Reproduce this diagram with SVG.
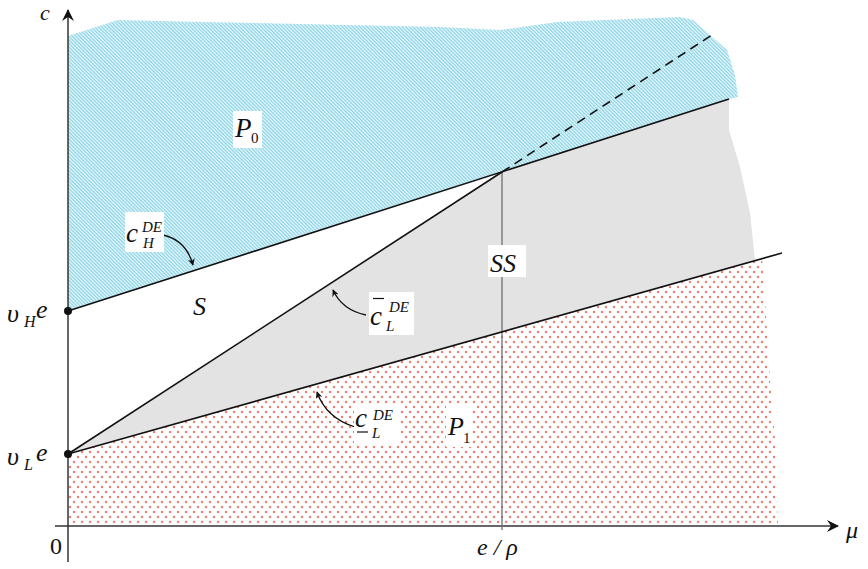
<svg xmlns="http://www.w3.org/2000/svg" width="868" height="569" viewBox="0 0 868 569">
<defs>
<style>
.t{font-family:"Liberation Serif","Times New Roman",serif;font-style:italic;fill:#111}
.n{font-family:"Liberation Serif","Times New Roman",serif;fill:#111}
.ax{stroke:#333;stroke-width:1.5;fill:none}
.ln{stroke:#111;stroke-width:1.6;fill:none}
.box{fill:#fff}
.arr{stroke:#111;stroke-width:1.3;fill:none;marker-end:url(#ah)}
</style>
<pattern id="hatch" width="2.5" height="2.5" patternUnits="userSpaceOnUse" patternTransform="rotate(-45)">
<rect width="2.5" height="2.5" fill="#dcf3f8"/>
<line x1="0.5" y1="0" x2="0.5" y2="2.5" stroke="#86d1e4" stroke-width="1"/>
</pattern>
<pattern id="dots" width="8" height="10" patternUnits="userSpaceOnUse">
<rect width="8" height="10" fill="#fff"/>
<circle cx="2" cy="2" r="1.2" fill="#ee7d6c"/>
<circle cx="6" cy="7" r="1.2" fill="#ee7d6c"/>
</pattern>
<marker id="ah" viewBox="0 0 10 10" refX="9" refY="5" markerWidth="7" markerHeight="7" orient="auto" markerUnits="userSpaceOnUse">
<path d="M0,0 L10,5 L0,10 L3,5 Z" fill="#111"/>
</marker>
<marker id="axh" viewBox="0 0 12 12" refX="11" refY="6" markerWidth="12" markerHeight="12" orient="auto" markerUnits="userSpaceOnUse">
<path d="M0,0 L12,6 L0,12 L4,6 Z" fill="#111"/>
</marker>
</defs>

<g id="region-P0">
<polygon points="68,36 118,20 200,22 300,24 440,27 500,30 557,22 680,17 693,20 727,50 735,75 738,97 729,99 68,311" fill="url(#hatch)"/>
</g>
<g id="region-SS">
<polygon points="68,454 502,172 729,99 729,130 740,167 750,213 755,260" fill="#e3e3e3"/>
</g>
<g id="region-P1">
<polygon points="68,454 762,258 765,300 770,380 775,440 778,526 68,526" fill="url(#dots)"/>
</g>

<g id="connectors">
<line class="ax" x1="55" y1="526" x2="838" y2="526" marker-end="url(#axh)"/>
<line class="ax" x1="68" y1="562" x2="68" y2="10" marker-end="url(#axh)"/>
<line x1="502" y1="172" x2="502" y2="530" stroke="#777" stroke-width="1.4"/>
<line class="ln" x1="68" y1="311" x2="729" y2="99"/>
<line class="ln" x1="68" y1="454" x2="502" y2="172"/>
<line class="ln" x1="502" y1="172" x2="715" y2="33" stroke-dasharray="9,6"/>
<line class="ln" x1="68" y1="454" x2="782" y2="253"/>
<path class="arr" d="M163,235 Q186,240 193,265"/>
<path class="arr" d="M366,315 Q342,310 333,290"/>
<path class="arr" d="M355,427 Q326,418 317,392"/>
</g>

<g id="point-vHe"><circle cx="68" cy="311" r="4" fill="#111"/></g>
<g id="point-vLe"><circle cx="68" cy="454" r="4" fill="#111"/></g>

<g id="label-c"><text class="t" x="40" y="20" font-size="22">c</text></g>
<g id="label-mu"><text class="t" x="846" y="538" font-size="24">μ</text></g>
<g id="label-zero"><text class="n" x="50" y="554" font-size="24">0</text></g>
<g id="label-erho"><text class="t" x="477" y="555" font-size="24">e / ρ</text></g>
<g id="label-vHe">
<text class="t" x="7" y="322" font-size="26">υ</text>
<text class="t" x="24" y="327" font-size="16">H</text>
<text class="t" x="36" y="318" font-size="26">e</text>
</g>
<g id="label-vLe">
<text class="t" x="7" y="465" font-size="26">υ</text>
<text class="t" x="24" y="470" font-size="16">L</text>
<text class="t" x="36" y="461" font-size="26">e</text>
</g>

<g id="label-P0">
<rect class="box" x="233" y="111" width="29" height="37"/>
<text class="t" x="235" y="137" font-size="27">P</text>
<text class="n" x="251" y="143" font-size="15">0</text>
</g>
<g id="label-cH">
<rect class="box" x="125" y="212" width="39" height="40"/>
<text class="t" x="126" y="242" font-size="27">c</text>
<text class="t" x="142" y="232" font-size="15">DE</text>
<text class="t" x="143" y="248" font-size="15">H</text>
</g>
<g id="label-S"><text class="t" x="193" y="315" font-size="26">S</text></g>
<g id="label-SSbox">
<rect class="box" x="488" y="245" width="38" height="32"/>
<text class="t" x="490" y="272" font-size="26">SS</text>
</g>
<g id="label-cLbar">
<rect class="box" x="369" y="292" width="45" height="43"/>
<line x1="373" y1="298.5" x2="384" y2="298.5" stroke="#111" stroke-width="1.2"/>
<text class="t" x="370" y="325" font-size="27">c</text>
<text class="t" x="389" y="312" font-size="15">DE</text>
<text class="t" x="386" y="331" font-size="15">L</text>
</g>
<g id="label-cLunder">
<rect class="box" x="354" y="404" width="45" height="41"/>
<text class="t" x="355" y="427" font-size="27">c</text>
<line x1="357" y1="432" x2="368" y2="432" stroke="#111" stroke-width="1.2"/>
<text class="t" x="373" y="420" font-size="15">DE</text>
<text class="t" x="372" y="438" font-size="15">L</text>
</g>
<g id="label-P1">
<rect class="box" x="446" y="405" width="26" height="42"/>
<text class="t" x="448" y="435" font-size="26">P</text>
<text class="n" x="463" y="443" font-size="15">1</text>
</g>
</svg>
